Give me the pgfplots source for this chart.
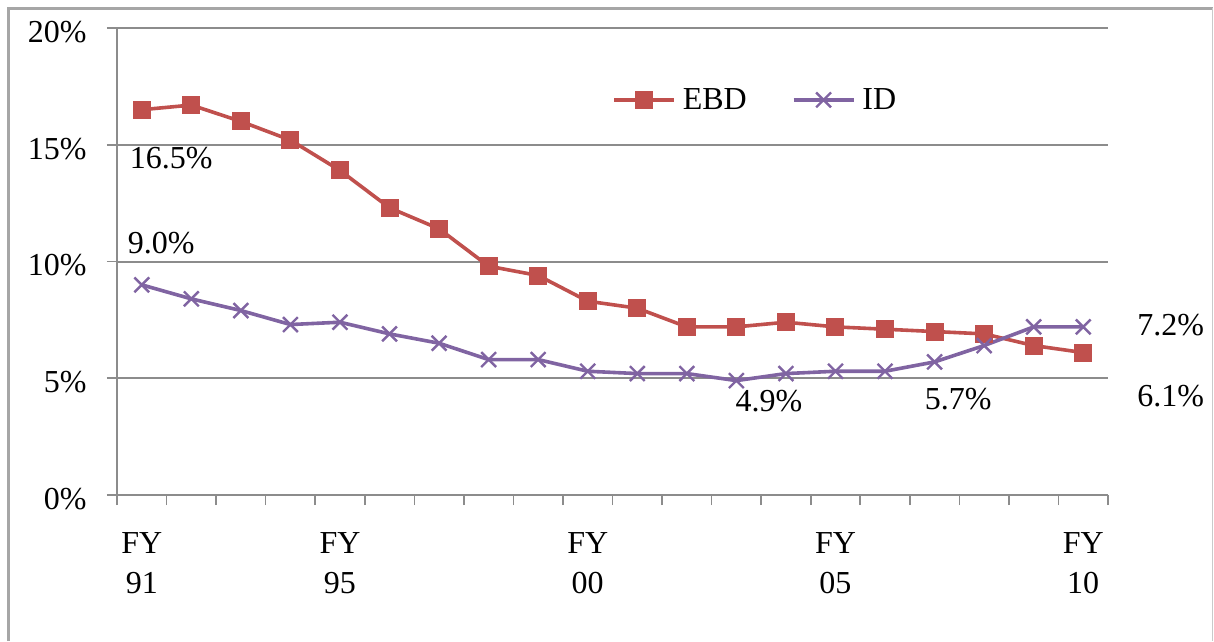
\documentclass[border=0pt]{standalone}
\usepackage{pgfplots}
\pgfplotsset{compat=1.18}
\usepackage{fontspec}
\setmainfont{Liberation Serif}
\definecolor{ebd}{HTML}{C0504D}
\definecolor{idc}{HTML}{8064A2}
\definecolor{gridc}{HTML}{8C8C8C}
\definecolor{framec}{HTML}{A6A6A6}

\pgfplotstableread{
idx ebd id
0.5 16.5 9.0
1.5 16.7 8.4
2.5 16.0 7.9
3.5 15.2 7.3
4.5 13.9 7.4
5.5 12.3 6.9
6.5 11.4 6.5
7.5 9.8 5.8
8.5 9.4 5.8
9.5 8.3 5.3
10.5 8.0 5.2
11.5 7.2 5.2
12.5 7.2 4.9
13.5 7.4 5.2
14.5 7.2 5.3
15.5 7.1 5.3
16.5 7.0 5.7
17.5 6.9 6.4
18.5 6.4 7.2
19.5 6.1 7.2
}\datatable

\begin{document}
\begin{tikzpicture}
% outer frame
\draw[framec, line width=3pt] (8pt,0pt) -- (8pt,632.5pt) -- (1212.5pt,632.5pt);
\draw[framec!60, line width=1.2pt] (1212.5pt,632.5pt) -- (1212.5pt,0pt);
\begin{axis}[
  at={(117pt,146pt)}, anchor=south west,
  width=991pt, height=467pt, scale only axis,
  xmin=0, xmax=20, ymin=0, ymax=20,
  axis x line=bottom, axis y line=left,
  axis line style={-, gridc, line width=2pt},
  xtick={0,...,20}, xticklabels={},
  ytick={0,5,10,15,20},
  yticklabels={0\%,5\%,10\%,15\%,20\%},
  tick align=outside,
  major tick length=10pt,
  tick style={gridc, line width=1.6pt},
  ymajorgrids,
  major grid style={gridc, line width=2pt},
  yticklabel style={font=\fontsize{32}{38}\selectfont, anchor=east, xshift=-17pt, yshift=-4pt},
  extra x ticks={0.5,4.5,9.5,14.5,19.5},
  extra x tick labels={FY\\91,FY\\95,FY\\00,FY\\05,FY\\10},
  extra x tick style={
    major tick length=0pt,
    xticklabel style={font=\fontsize{32}{40}\selectfont, align=center, anchor=north, yshift=-34pt},
  },
  legend columns=2,
  legend style={
    at={(0.4995,0.846)}, anchor=west, draw=none, fill=none,
    inner xsep=0pt, inner ysep=0pt,
    font=\fontsize{32}{38}\selectfont,
    /tikz/every even column/.append style={column sep=38pt},
    nodes={inner xsep=7pt},
  },
  legend image code/.code={
    \draw[mark repeat=2, mark phase=2] plot coordinates {(0pt,0pt) (30pt,0pt) (60pt,0pt)};
  },
  clip=false,
]
\addplot[ebd, line width=3.6pt, mark=square*, mark size=8.5pt, mark options={solid, fill=ebd, line width=0pt}]
  table[x=idx, y=ebd] {\datatable};
\addlegendentry{EBD}
\addplot[idc, line width=3.6pt, mark=x, mark size=10.5pt, mark options={solid, line width=2.4pt}]
  table[x=idx, y=id] {\datatable};
\addlegendentry{ID}

% value labels
\begin{scope}[every node/.style={font=\fontsize{32}{38}\selectfont, anchor=west, inner sep=0pt}]
\node at (axis cs:0.5,16.5) [xshift=-12pt, yshift=-48pt] {16.5\%};
\node at (axis cs:0.5,9.0) [xshift=-14pt, yshift=42pt] {9.0\%};
\node at (axis cs:12.5,4.9) [xshift=-1pt, yshift=-20pt] {4.9\%};
\node at (axis cs:16.5,5.7) [xshift=-10pt, yshift=-37pt] {5.7\%};
\node at (axis cs:19.5,7.2) [xshift=54pt, yshift=2pt] {7.2\%};
\node at (axis cs:19.5,6.1) [xshift=54pt, yshift=-44pt] {6.1\%};
\end{scope}
\end{axis}
\pgfresetboundingbox
\useasboundingbox (0pt,0pt) rectangle (1214pt,641pt);
\end{tikzpicture}
\end{document}
